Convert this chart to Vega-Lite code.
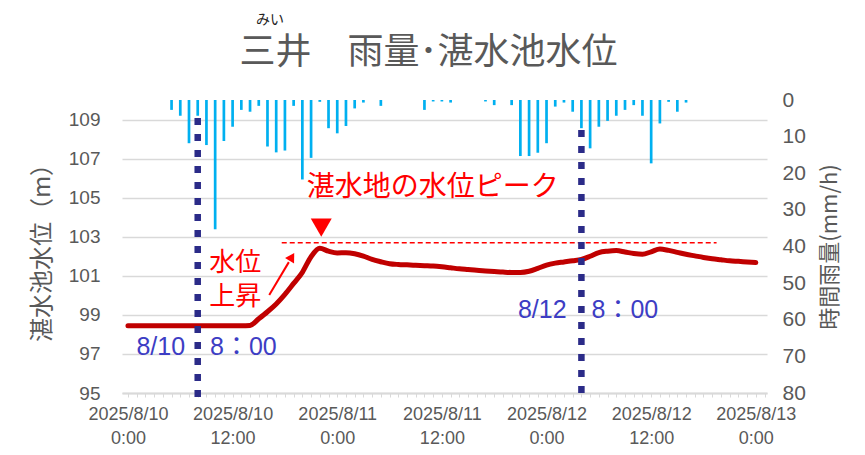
{
  "$schema": "https://vega.github.io/schema/vega-lite/v6.json",
  "width": 645,
  "height": 293,
  "autosize": {"type": "none"},
  "padding": {"left": 122, "top": 100, "right": 98, "bottom": 62},
  "background": "white",
  "title": {
    "text": "三井　雨量･湛水池水位",
    "frame": "group",
    "anchor": "middle",
    "dx": -16,
    "offset": -59,
    "font": "Noto Sans CJK JP",
    "fontSize": 36,
    "fontWeight": "normal",
    "color": "#595959"
  },
  "datasets": {
    "lv": [
      {"t": "2025-08-10T00:00", "level": 98.44}, {"t": "2025-08-10T01:00", "level": 98.44}, {"t": "2025-08-10T02:00", "level": 98.44},
      {"t": "2025-08-10T03:00", "level": 98.44}, {"t": "2025-08-10T04:00", "level": 98.44}, {"t": "2025-08-10T05:00", "level": 98.44},
      {"t": "2025-08-10T06:00", "level": 98.44}, {"t": "2025-08-10T07:00", "level": 98.44}, {"t": "2025-08-10T08:00", "level": 98.44},
      {"t": "2025-08-10T09:00", "level": 98.44}, {"t": "2025-08-10T10:00", "level": 98.44}, {"t": "2025-08-10T11:00", "level": 98.44},
      {"t": "2025-08-10T12:00", "level": 98.44}, {"t": "2025-08-10T13:00", "level": 98.44}, {"t": "2025-08-10T14:00", "level": 98.46},
      {"t": "2025-08-10T15:00", "level": 98.8}, {"t": "2025-08-10T16:00", "level": 99.16}, {"t": "2025-08-10T17:00", "level": 99.56},
      {"t": "2025-08-10T18:00", "level": 100.05}, {"t": "2025-08-10T19:00", "level": 100.61}, {"t": "2025-08-10T20:00", "level": 101.18},
      {"t": "2025-08-10T21:00", "level": 101.98}, {"t": "2025-08-10T22:00", "level": 102.41}, {"t": "2025-08-10T23:00", "level": 102.26},
      {"t": "2025-08-11T00:00", "level": 102.17}, {"t": "2025-08-11T01:00", "level": 102.18}, {"t": "2025-08-11T02:00", "level": 102.13},
      {"t": "2025-08-11T03:00", "level": 102.01}, {"t": "2025-08-11T04:00", "level": 101.84}, {"t": "2025-08-11T05:00", "level": 101.72},
      {"t": "2025-08-11T06:00", "level": 101.62}, {"t": "2025-08-11T07:00", "level": 101.58}, {"t": "2025-08-11T08:00", "level": 101.56},
      {"t": "2025-08-11T09:00", "level": 101.54}, {"t": "2025-08-11T10:00", "level": 101.52}, {"t": "2025-08-11T11:00", "level": 101.5},
      {"t": "2025-08-11T12:00", "level": 101.46}, {"t": "2025-08-11T13:00", "level": 101.41}, {"t": "2025-08-11T14:00", "level": 101.36},
      {"t": "2025-08-11T15:00", "level": 101.32}, {"t": "2025-08-11T16:00", "level": 101.28}, {"t": "2025-08-11T17:00", "level": 101.25},
      {"t": "2025-08-11T18:00", "level": 101.22}, {"t": "2025-08-11T19:00", "level": 101.19}, {"t": "2025-08-11T20:00", "level": 101.17},
      {"t": "2025-08-11T21:00", "level": 101.17}, {"t": "2025-08-11T22:00", "level": 101.23}, {"t": "2025-08-11T23:00", "level": 101.38},
      {"t": "2025-08-12T00:00", "level": 101.55}, {"t": "2025-08-12T01:00", "level": 101.65}, {"t": "2025-08-12T02:00", "level": 101.71},
      {"t": "2025-08-12T03:00", "level": 101.77}, {"t": "2025-08-12T04:00", "level": 101.84}, {"t": "2025-08-12T05:00", "level": 102.0},
      {"t": "2025-08-12T06:00", "level": 102.19}, {"t": "2025-08-12T07:00", "level": 102.26}, {"t": "2025-08-12T08:00", "level": 102.29},
      {"t": "2025-08-12T09:00", "level": 102.22}, {"t": "2025-08-12T10:00", "level": 102.14}, {"t": "2025-08-12T11:00", "level": 102.1},
      {"t": "2025-08-12T12:00", "level": 102.23}, {"t": "2025-08-12T13:00", "level": 102.37}, {"t": "2025-08-12T14:00", "level": 102.3},
      {"t": "2025-08-12T15:00", "level": 102.2}, {"t": "2025-08-12T16:00", "level": 102.1}, {"t": "2025-08-12T17:00", "level": 102.02},
      {"t": "2025-08-12T18:00", "level": 101.94}, {"t": "2025-08-12T19:00", "level": 101.87}, {"t": "2025-08-12T20:00", "level": 101.82},
      {"t": "2025-08-12T21:00", "level": 101.77}, {"t": "2025-08-12T22:00", "level": 101.74}, {"t": "2025-08-12T23:00", "level": 101.71},
      {"t": "2025-08-13T00:00", "level": 101.68}
    ],
    "rain": [
      {"t": "2025-08-10T05:00", "mm": 2.7}, {"t": "2025-08-10T06:00", "mm": 4.3}, {"t": "2025-08-10T07:00", "mm": 11.8},
      {"t": "2025-08-10T08:00", "mm": 4.3}, {"t": "2025-08-10T09:00", "mm": 12.3}, {"t": "2025-08-10T10:00", "mm": 35.3},
      {"t": "2025-08-10T11:00", "mm": 11.2}, {"t": "2025-08-10T12:00", "mm": 7.3}, {"t": "2025-08-10T13:00", "mm": 2.7},
      {"t": "2025-08-10T14:00", "mm": 3.2}, {"t": "2025-08-10T15:00", "mm": 1.6}, {"t": "2025-08-10T16:00", "mm": 12.7},
      {"t": "2025-08-10T17:00", "mm": 14.3}, {"t": "2025-08-10T18:00", "mm": 13.8}, {"t": "2025-08-10T19:00", "mm": 1.6},
      {"t": "2025-08-10T20:00", "mm": 21.7}, {"t": "2025-08-10T21:00", "mm": 15.8}, {"t": "2025-08-10T22:00", "mm": 0.5},
      {"t": "2025-08-10T23:00", "mm": 7.7}, {"t": "2025-08-11T00:00", "mm": 9.1}, {"t": "2025-08-11T01:00", "mm": 7.1},
      {"t": "2025-08-11T02:00", "mm": 2.3}, {"t": "2025-08-11T03:00", "mm": 0.7}, {"t": "2025-08-11T05:00", "mm": 1.6},
      {"t": "2025-08-11T10:00", "mm": 2.7}, {"t": "2025-08-11T11:00", "mm": 0.4}, {"t": "2025-08-11T12:00", "mm": 0.4},
      {"t": "2025-08-11T13:00", "mm": 0.7}, {"t": "2025-08-11T17:00", "mm": 0.4}, {"t": "2025-08-11T18:00", "mm": 1.4},
      {"t": "2025-08-11T20:00", "mm": 1.4}, {"t": "2025-08-11T21:00", "mm": 15.3}, {"t": "2025-08-11T22:00", "mm": 15.3},
      {"t": "2025-08-11T23:00", "mm": 14.4}, {"t": "2025-08-12T00:00", "mm": 11.8}, {"t": "2025-08-12T01:00", "mm": 1.8},
      {"t": "2025-08-12T02:00", "mm": 0.7}, {"t": "2025-08-12T03:00", "mm": 3.2}, {"t": "2025-08-12T04:00", "mm": 7.7},
      {"t": "2025-08-12T05:00", "mm": 13.2}, {"t": "2025-08-12T06:00", "mm": 7.3}, {"t": "2025-08-12T07:00", "mm": 5.7},
      {"t": "2025-08-12T08:00", "mm": 4.3}, {"t": "2025-08-12T09:00", "mm": 2.7}, {"t": "2025-08-12T10:00", "mm": 1.4},
      {"t": "2025-08-12T11:00", "mm": 4.3}, {"t": "2025-08-12T12:00", "mm": 17.3}, {"t": "2025-08-12T13:00", "mm": 6.4},
      {"t": "2025-08-12T14:00", "mm": 0.5}, {"t": "2025-08-12T15:00", "mm": 3.2}, {"t": "2025-08-12T16:00", "mm": 0.7}
    ]
  },
  "layer": [
    {
      "data": {"name": "rain"},
      "mark": {"type": "bar", "color": "#00b0f0", "size": 2.7},
      "encoding": {
        "x": {
          "field": "t", "type": "temporal",
          "scale": {"domain": [{"year": 2025, "month": 8, "date": 9, "hours": 23, "minutes": 19}, {"year": 2025, "month": 8, "date": 13, "hours": 1, "minutes": 17}], "nice": false, "padding": 0},
          "axis": {
            "title": null,
            "tickCount": 74,
            "labelExpr": "hours(datum.value) % 12 == 0 ? [timeFormat(datum.value, '%Y/%-m/%-d'), timeFormat(datum.value, '%-H:%M')] : ''",
            "labelOverlap": false,
            "labelFont": "Liberation Sans",
            "labelFontSize": 18,
            "labelColor": "#595959",
            "labelLineHeight": 24,
            "labelBaseline": "top",
            "labelPadding": 8,
            "domainColor": "#d9d9d9",
            "domainWidth": 2,
            "tickColor": "#d9d9d9",
            "tickSize": 4,
            "grid": false
          }
        },
        "y": {
          "field": "mm", "type": "quantitative",
          "scale": {"domain": [0, 80], "reverse": true, "nice": false},
          "axis": {
            "orient": "right",
            "values": [0, 10, 20, 30, 40, 50, 60, 70, 80],
            "title": "時間雨量(mm/h)",
            "titleFont": "Noto Sans CJK JP",
            "titleFontSize": 22,
            "titleFontWeight": "normal",
            "titleColor": "#595959",
            "titleAngle": 270,
            "titleBaseline": "top",
            "titlePadding": 14,
            "labelFont": "Liberation Sans",
            "labelFontSize": 21,
            "labelColor": "#595959",
            "labelPadding": 15,
            "labelOverlap": false,
            "ticks": false,
            "domain": false,
            "grid": false
          }
        }
      }
    },
    {
      "layer": [
        {
          "data": {"name": "lv"},
          "mark": {"type": "line", "color": "#c00000", "strokeWidth": 5, "strokeCap": "round", "strokeJoin": "round", "interpolate": "monotone"},
          "encoding": {
            "x": {"field": "t", "type": "temporal"},
            "y": {
              "field": "level", "type": "quantitative",
              "scale": {"domain": [95, 110], "nice": false, "zero": false},
              "axis": {
                "orient": "left",
                "values": [95, 96, 97, 98, 99, 100, 101, 102, 103, 104, 105, 106, 107, 108, 109, 110],
                "title": "湛水池水位（m）",
                "titleFont": "Noto Sans CJK JP",
                "titleFontSize": 24,
                "titleFontWeight": "normal",
                "titleColor": "#595959",
                "titlePadding": 14,
                "labelFont": "Liberation Sans",
                "labelFontSize": 19,
                "labelColor": "#595959",
                "labelPadding": 22,
                "labelOverlap": false,
                "labelSeparation": 0,
                "ticks": false,
                "domain": false,
                "grid": true,
                "gridColor": "#d9d9d9",
                "gridWidth": 1.5
              }
            }
          }
        },
        {
          "data": {"values": [{"t": "2025-08-10T17:38", "t2": "2025-08-12T19:30", "level": 102.69}]},
          "mark": {"type": "rule", "color": "#ff0000", "strokeWidth": 1.5, "strokeDash": [5, 3]},
          "encoding": {
            "x": {"field": "t", "type": "temporal"},
            "x2": {"field": "t2"},
            "y": {"field": "level", "type": "quantitative", "scale": {"domain": [95, 110], "nice": false, "zero": false}}
          }
        },
        {
          "data": {"values": [
            {"t": "2025-08-10T08:00", "level": 109.08, "bottom": 94.6},
            {"t": "2025-08-12T04:00", "level": 108.46, "bottom": 94.6}
          ]},
          "mark": {"type": "rule", "color": "#2b2b88", "strokeWidth": 6.5, "strokeDash": [7, 9]},
          "encoding": {
            "x": {"field": "t", "type": "temporal"},
            "y": {"field": "level", "type": "quantitative", "scale": {"domain": [95, 110], "nice": false, "zero": false}},
            "y2": {"field": "bottom"}
          }
        },
        {
          "data": {"values": [{"t": "2025-08-10T22:10", "level": 103.47}]},
          "mark": {"type": "point", "shape": "triangle-down", "size": 441, "filled": true, "color": "#ff0000", "opacity": 1},
          "encoding": {
            "x": {"field": "t", "type": "temporal"},
            "y": {"field": "level", "type": "quantitative", "scale": {"domain": [95, 110], "nice": false, "zero": false}}
          }
        },
        {
          "data": {"values": [{"t": "2025-08-10T16:12", "level": 100.02, "t2": "2025-08-10T18:27", "level2": 101.7}]},
          "mark": {"type": "rule", "color": "#ff0000", "strokeWidth": 2},
          "encoding": {
            "x": {"field": "t", "type": "temporal"},
            "x2": {"field": "t2"},
            "y": {"field": "level", "type": "quantitative", "scale": {"domain": [95, 110], "nice": false, "zero": false}},
            "y2": {"field": "level2"}
          }
        },
        {
          "data": {"values": [{"t": "2025-08-10T18:48", "level": 101.97}]},
          "mark": {"type": "point", "shape": "triangle-up", "size": 110, "angle": 31, "filled": true, "color": "#ff0000", "opacity": 1},
          "encoding": {
            "x": {"field": "t", "type": "temporal"},
            "y": {"field": "level", "type": "quantitative", "scale": {"domain": [95, 110], "nice": false, "zero": false}}
          }
        },
        {
          "data": {"values": [
            {"t": "2025-08-10T20:30", "level": 105.5, "label": "湛水地の水位ピーク"}
          ]},
          "mark": {"type": "text", "color": "#ff0000", "font": "Noto Sans CJK JP", "fontSize": 28, "align": "left", "baseline": "middle"},
          "encoding": {
            "x": {"field": "t", "type": "temporal"},
            "y": {"field": "level", "type": "quantitative", "scale": {"domain": [95, 110], "nice": false, "zero": false}},
            "text": {"field": "label"}
          }
        },
        {
          "data": {"values": [
            {"t": "2025-08-10T09:20", "level": 101.68, "label": "水位"},
            {"t": "2025-08-10T09:20", "level": 99.93, "label": "上昇"}
          ]},
          "mark": {"type": "text", "color": "#ff0000", "font": "Noto Sans CJK JP", "fontSize": 26, "align": "left", "baseline": "middle"},
          "encoding": {
            "x": {"field": "t", "type": "temporal"},
            "y": {"field": "level", "type": "quantitative", "scale": {"domain": [95, 110], "nice": false, "zero": false}},
            "text": {"field": "label"}
          }
        },
        {
          "data": {"values": [
            {"t": "2025-08-10T00:58", "level": 97.35, "label": "8/10　8：00"},
            {"t": "2025-08-11T20:43", "level": 99.25, "label": "8/12　8：00"}
          ]},
          "mark": {"type": "text", "color": "#3d3dc4", "font": "Liberation Sans, Noto Sans CJK JP", "fontSize": 25, "align": "left", "baseline": "middle"},
          "encoding": {
            "x": {"field": "t", "type": "temporal"},
            "y": {"field": "level", "type": "quantitative", "scale": {"domain": [95, 110], "nice": false, "zero": false}},
            "text": {"field": "label"}
          }
        },
        {
          "data": {"values": [{"t": "2025-08-10T16:17", "level": 114.12, "label": "みい"}]},
          "mark": {"type": "text", "color": "#222222", "font": "Noto Sans CJK JP", "fontSize": 14, "align": "center", "baseline": "middle"},
          "encoding": {
            "x": {"field": "t", "type": "temporal"},
            "y": {"field": "level", "type": "quantitative", "scale": {"domain": [95, 110], "nice": false, "zero": false}},
            "text": {"field": "label"}
          }
        }
      ]
    }
  ],
  "resolve": {"scale": {"y": "independent"}},
  "config": {
    "view": {"stroke": null},
    "axis": {"labelOverlap": false}
  }
}
